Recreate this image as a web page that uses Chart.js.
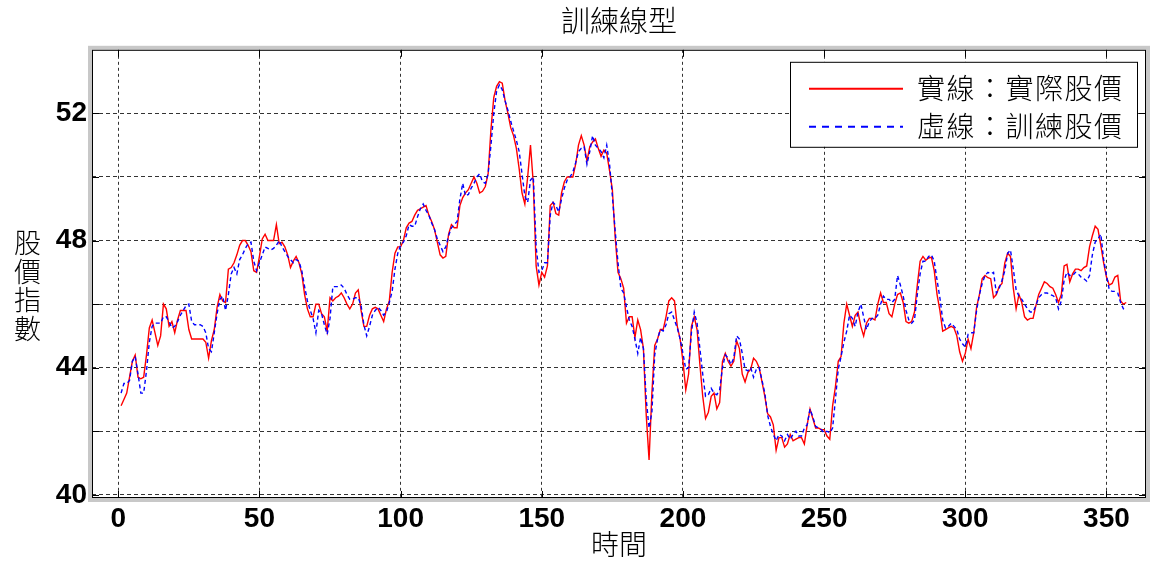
<!DOCTYPE html>
<html><head><meta charset="utf-8">
<script src="https://cdn.jsdelivr.net/npm/chart.js@4"></script>
<style>html,body{margin:0;padding:0;background:#fff}#wrap{width:1151px;height:561px}</style>
</head><body><div id="wrap"><canvas id="c" width="1151" height="561"></canvas></div>
<script>
const titleText = '訓練線型';
const xTitle = '時間';
const yTitle = ['股', '價', '指', '數'];
const seriesNames = ['實線：實際股價', '虛線：訓練股價'];
const xTicks = [0, 50, 100, 150, 200, 250, 300, 350];
const yGrid = [40, 42, 44, 46, 48, 50, 52];
const yLabels = [40, 44, 48, 52];

const actual = [
42.8,43.0,43.2,43.7,44.2,44.4,43.7,43.65,43.7,44.4,
45.25,45.5,45.1,44.7,45.0,46.0,45.85,45.3,45.45,45.1,
45.5,45.8,45.8,45.8,45.2,44.9,44.9,44.9,44.9,44.9,
44.8,44.3,44.85,45.2,45.9,46.3,46.1,46.05,47.1,47.15,
47.3,47.55,47.85,48.0,48.0,47.85,47.65,47.05,47.0,47.5,
48.05,48.2,48.0,48.0,48.0,48.5,47.9,47.95,47.8,47.55,
47.15,47.35,47.5,47.3,46.95,46.3,45.85,45.6,45.6,46.0,
46.0,45.7,45.6,45.15,46.2,46.1,46.2,46.25,46.35,46.2,
46.0,45.85,46.0,46.35,46.45,45.8,45.3,45.3,45.65,45.85,
45.9,45.85,45.65,45.45,45.85,46.1,47.0,47.6,47.8,47.8,
48.0,48.4,48.55,48.6,48.8,48.95,49.0,49.05,49.1,48.8,
48.6,48.35,47.95,47.55,47.45,47.5,48.2,48.5,48.4,48.4,
49.1,49.35,49.5,49.6,49.8,50.0,49.8,49.5,49.55,49.7,
50.1,51.5,52.5,52.85,53.0,52.95,52.4,52.0,51.55,51.3,
50.9,50.25,49.5,49.15,50.0,51.0,49.8,47.2,46.6,47.0,
46.85,47.2,49.1,49.2,48.85,48.8,49.5,49.85,50.0,50.0,
50.0,50.4,51.0,51.3,51.0,50.5,50.95,51.1,51.2,50.9,
50.65,50.85,50.75,50.2,49.6,48.1,47.0,46.8,46.5,45.4,
45.6,45.6,44.95,45.5,45.2,44.6,42.5,41.1,43.2,44.7,
44.9,45.2,45.2,45.6,46.1,46.2,46.1,45.3,44.9,44.2,
43.3,43.8,45.3,45.6,45.2,44.1,43.1,42.4,42.6,43.1,
43.2,42.7,42.9,44.2,44.45,44.2,44.05,44.2,44.85,44.6,
43.8,43.55,43.85,43.95,44.3,44.2,44.0,43.55,43.1,42.55,
42.45,42.2,41.4,41.8,41.8,41.5,41.6,41.9,41.7,41.75,
41.8,41.8,41.6,42.2,42.7,42.4,42.1,42.1,42.05,42.05,
41.85,41.75,42.8,43.4,44.2,44.35,45.4,46.0,45.65,45.3,
45.65,45.75,45.3,45.0,45.4,45.55,45.55,45.5,46.0,46.35,
46.05,46.05,45.7,45.6,46.0,46.3,46.35,46.05,45.45,45.4,
45.45,45.75,46.6,47.35,47.5,47.38,47.45,47.47,47.05,46.3,
45.8,45.15,45.2,45.25,45.3,45.25,45.0,44.5,44.2,44.45,
44.9,44.6,45.1,45.9,46.3,46.8,46.9,46.83,46.8,46.2,
46.3,46.55,46.65,47.3,47.6,47.5,46.5,45.85,46.3,46.05,
45.6,45.5,45.55,45.55,45.95,46.3,46.5,46.7,46.65,46.55,
46.5,46.3,46.05,46.3,47.2,47.25,46.7,46.95,47.1,47.1,
47.05,47.15,47.2,47.8,48.15,48.45,48.35,47.85,47.3,46.85,
46.6,46.65,46.85,46.9,46.1,46.0,46.05
];

const trained = [
43.2,43.5,43.5,43.6,44.2,44.35,43.8,43.2,43.2,43.9,
44.8,45.3,45.4,45.4,45.4,45.6,45.6,45.45,45.25,45.3,
45.45,45.65,45.8,45.95,46.0,45.45,45.35,45.35,45.35,45.3,
45.1,44.6,44.5,45.1,45.7,46.15,46.25,45.8,46.3,46.95,
47.15,46.95,47.4,47.55,47.75,47.9,47.95,47.35,47.05,47.3,
47.55,47.8,47.75,47.7,47.75,47.85,48.0,47.8,47.65,47.5,
47.4,47.3,47.4,47.35,47.05,46.55,46.1,45.8,45.55,45.1,
45.8,45.7,45.35,45.05,45.55,46.55,46.55,46.55,46.6,46.5,
46.3,46.15,46.15,46.2,46.2,45.95,45.35,45.0,45.3,45.65,
45.8,45.9,45.8,45.65,45.75,46.05,46.4,47.1,47.6,47.85,
47.95,48.15,48.5,48.45,48.45,48.75,49.0,49.15,48.95,48.8,
48.55,48.35,48.05,47.85,47.65,47.8,48.15,48.4,48.5,48.6,
49.3,49.8,49.4,49.45,49.65,49.8,50.0,50.1,49.85,49.8,
50.1,51.0,52.0,52.7,52.9,52.75,52.4,52.1,51.75,51.45,
51.15,50.8,50.1,49.4,49.2,49.9,50.0,47.8,47.0,47.05,
47.3,47.3,48.8,49.2,49.1,48.9,49.3,49.65,49.9,50.0,
50.15,50.45,50.8,50.9,50.95,50.4,50.8,51.3,51.0,50.9,
50.8,50.6,51.0,50.4,49.4,48.3,47.3,46.5,46.35,45.9,
45.5,45.3,44.9,44.45,44.95,44.6,43.0,42.1,42.6,44.4,
44.9,45.2,45.15,45.35,45.7,45.75,45.5,45.25,44.9,44.45,
43.95,44.0,45.1,45.75,45.4,44.6,43.8,43.1,43.15,43.35,
43.2,43.15,43.3,44.0,44.4,44.3,44.1,44.3,45.0,44.9,
44.45,43.95,43.9,44.0,43.7,43.95,44.0,43.6,43.2,42.5,
42.15,41.9,41.7,41.9,41.85,41.7,41.9,41.75,41.9,42.0,
41.85,41.85,42.1,42.2,42.7,42.45,42.15,42.1,42.05,41.95,
42.0,41.95,42.1,43.0,43.95,44.35,44.8,45.15,45.65,45.55,
45.3,45.75,46.0,45.6,45.2,45.45,45.55,45.55,45.65,46.0,
46.25,46.15,46.15,46.05,46.15,46.9,46.6,46.25,45.8,45.5,
45.4,45.5,46.3,46.95,47.35,47.35,47.5,47.55,47.35,46.75,
46.2,45.5,45.25,45.3,45.4,45.3,45.2,44.9,44.75,44.65,
45.05,45.1,45.1,45.8,46.3,46.65,46.9,47.0,46.95,47.0,
46.35,46.5,46.75,47.05,47.6,47.7,47.1,46.45,46.25,46.15,
46.0,45.85,45.75,45.75,45.95,46.2,46.3,46.35,46.35,46.3,
46.27,46.2,45.85,46.1,46.75,47.0,46.9,46.9,47.0,46.95,
46.85,46.8,46.72,46.9,47.55,47.95,48.05,48.2,47.4,46.9,
46.45,46.4,46.4,46.35,46.05,45.85,45.8
];

const time = actual.map((_, i) => i + 1);

const cjk = '"Noto Sans CJK TC", "Noto Sans CJK SC", sans-serif';
const num = '"Liberation Sans", Arial, sans-serif';

const framePlugin = {
  id: 'frame',
  afterDraw(chart) {
    const { ctx, chartArea: a, scales: { x, y } } = chart;
    ctx.save();
    ctx.setLineDash([]);
    ctx.strokeStyle = '#c8c8c8';
    ctx.lineWidth = 4;
    ctx.strokeRect(a.left - 2, a.top - 2, a.right - a.left + 4, a.bottom - a.top + 4);
    ctx.strokeStyle = '#000';
    ctx.lineWidth = 1;
    ctx.strokeRect(a.left + 0.5, a.top + 0.5, a.right - a.left - 1, a.bottom - a.top - 1);
    ctx.beginPath();
    for (const v of xTicks) {
      const px = Math.round(x.getPixelForValue(v)) + 0.5;
      ctx.moveTo(px, a.bottom); ctx.lineTo(px, a.bottom - 7);
      ctx.moveTo(px, a.top); ctx.lineTo(px, a.top + 7);
    }
    for (const v of yGrid) {
      const py = Math.round(y.getPixelForValue(v)) + 0.5;
      ctx.moveTo(a.left, py); ctx.lineTo(a.left + 7, py);
      ctx.moveTo(a.right, py); ctx.lineTo(a.right - 7, py);
    }
    ctx.stroke();

    // vertical y-axis title (stacked characters)
    ctx.fillStyle = '#000';
    ctx.font = '300 27px ' + cjk;
    ctx.textAlign = 'center';
    ctx.textBaseline = 'middle';
    yTitle.forEach((ch, i) => ctx.fillText(ch, 27.5, a.top + 193 + i * 28.6));

    // legend box
    const bw = 347, bh = 85;
    const bx = a.right - 356, by = a.top + 12;
    ctx.fillStyle = '#fff';
    ctx.fillRect(bx, by, bw, bh);
    ctx.strokeStyle = '#000';
    ctx.lineWidth = 1;
    ctx.strokeRect(bx + 0.5, by + 0.5, bw, bh);
    chart.data.datasets.forEach((ds, i) => {
      const ly = by + 27 + i * 38;
      ctx.strokeStyle = ds.borderColor;
      ctx.lineWidth = 2;
      ctx.setLineDash(i === 1 ? [7, 6] : []);
      ctx.beginPath(); ctx.moveTo(bx + 19, ly); ctx.lineTo(bx + 113, ly); ctx.stroke();
      ctx.setLineDash([]);
      ctx.fillStyle = '#000';
      ctx.font = '300 28px ' + cjk;
      ctx.textAlign = 'left';
      ctx.textBaseline = 'middle';
      try { ctx.letterSpacing = '1.5px'; } catch (e) {}
      ctx.fillText(ds.label, bx + 127, ly);
      try { ctx.letterSpacing = '0px'; } catch (e) {}
    });
    ctx.restore();
  }
};

new Chart(document.getElementById('c'), {
  type: 'line',
  data: {
    datasets: [
      { label: seriesNames[0], data: time.map((t, i) => ({ x: t, y: actual[i] })),
        borderColor: '#ff0000', borderWidth: 1.4, pointRadius: 0, tension: 0, order: 1 },
      { label: seriesNames[1], data: time.map((t, i) => ({ x: t, y: trained[i] })),
        borderColor: '#0000ff', borderWidth: 1.4, borderDash: [4, 3], pointRadius: 0, tension: 0, order: 0 }
    ]
  },
  options: {
    responsive: false,
    animation: false,
    layout: { padding: { left: 0, right: 5, top: 0, bottom: 0 } },
    plugins: {
      legend: { display: false },
      tooltip: { enabled: false },
      title: { display: true, text: titleText, fullSize: false, color: '#000',
        font: { family: cjk, size: 29, weight: '300', lineHeight: 1.2 },
        padding: { top: 4, bottom: 11 } }
    },
    scales: {
      x: {
        type: 'linear', min: -9.3, max: 364,
        afterBuildTicks: s => { s.ticks = xTicks.map(v => ({ value: v })); },
        afterFit: s => { s.height = 63; },
        ticks: { color: '#000', font: { family: num, size: 28, weight: 'bold', lineHeight: 1.2 },
          padding: 4, maxRotation: 0, autoSkip: false },
        grid: { color: '#333', lineWidth: 1, drawTicks: false },
        border: { display: false, dash: [3, 3] },
        title: { display: true, text: xTitle, color: '#000',
          font: { family: cjk, size: 28, weight: '300', lineHeight: 1.2 }, padding: { top: 0, bottom: 0 } }
      },
      y: {
        min: 39.9, max: 54,
        afterBuildTicks: s => { s.ticks = yGrid.map(v => ({ value: v })); },
        afterFit: s => { s.width = 92; },
        ticks: { color: '#000', font: { family: num, size: 28, weight: 'bold', lineHeight: 1.2 },
          padding: 5, autoSkip: false, callback: v => (yLabels.includes(v) ? String(v) : '') },
        grid: { color: '#333', lineWidth: 1, drawTicks: false },
        border: { display: false, dash: [4, 3] }
      }
    }
  },
  plugins: [framePlugin]
});
</script></body></html>
